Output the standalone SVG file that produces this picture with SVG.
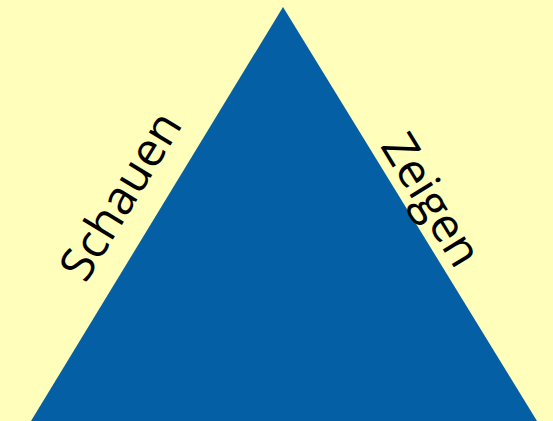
<svg xmlns="http://www.w3.org/2000/svg" width="553" height="421" viewBox="0 0 553 421">
<style>
.lbl{font-family:"Open Sans","Liberation Sans",sans-serif;font-size:47px;fill:#000;text-anchor:middle;dominant-baseline:central}
</style>
<rect width="553" height="421" fill="#FFFFBB"/>
<g id="triangle"><polygon points="283,7 537,421 31,421" fill="#045FA5"/></g>
<g id="schauen"><text class="lbl" transform="translate(119,195) rotate(-58.6)">Schauen</text></g>
<g id="zeigen"><text class="lbl" transform="translate(433,199) rotate(58.6)">Zeigen</text></g>
</svg>
